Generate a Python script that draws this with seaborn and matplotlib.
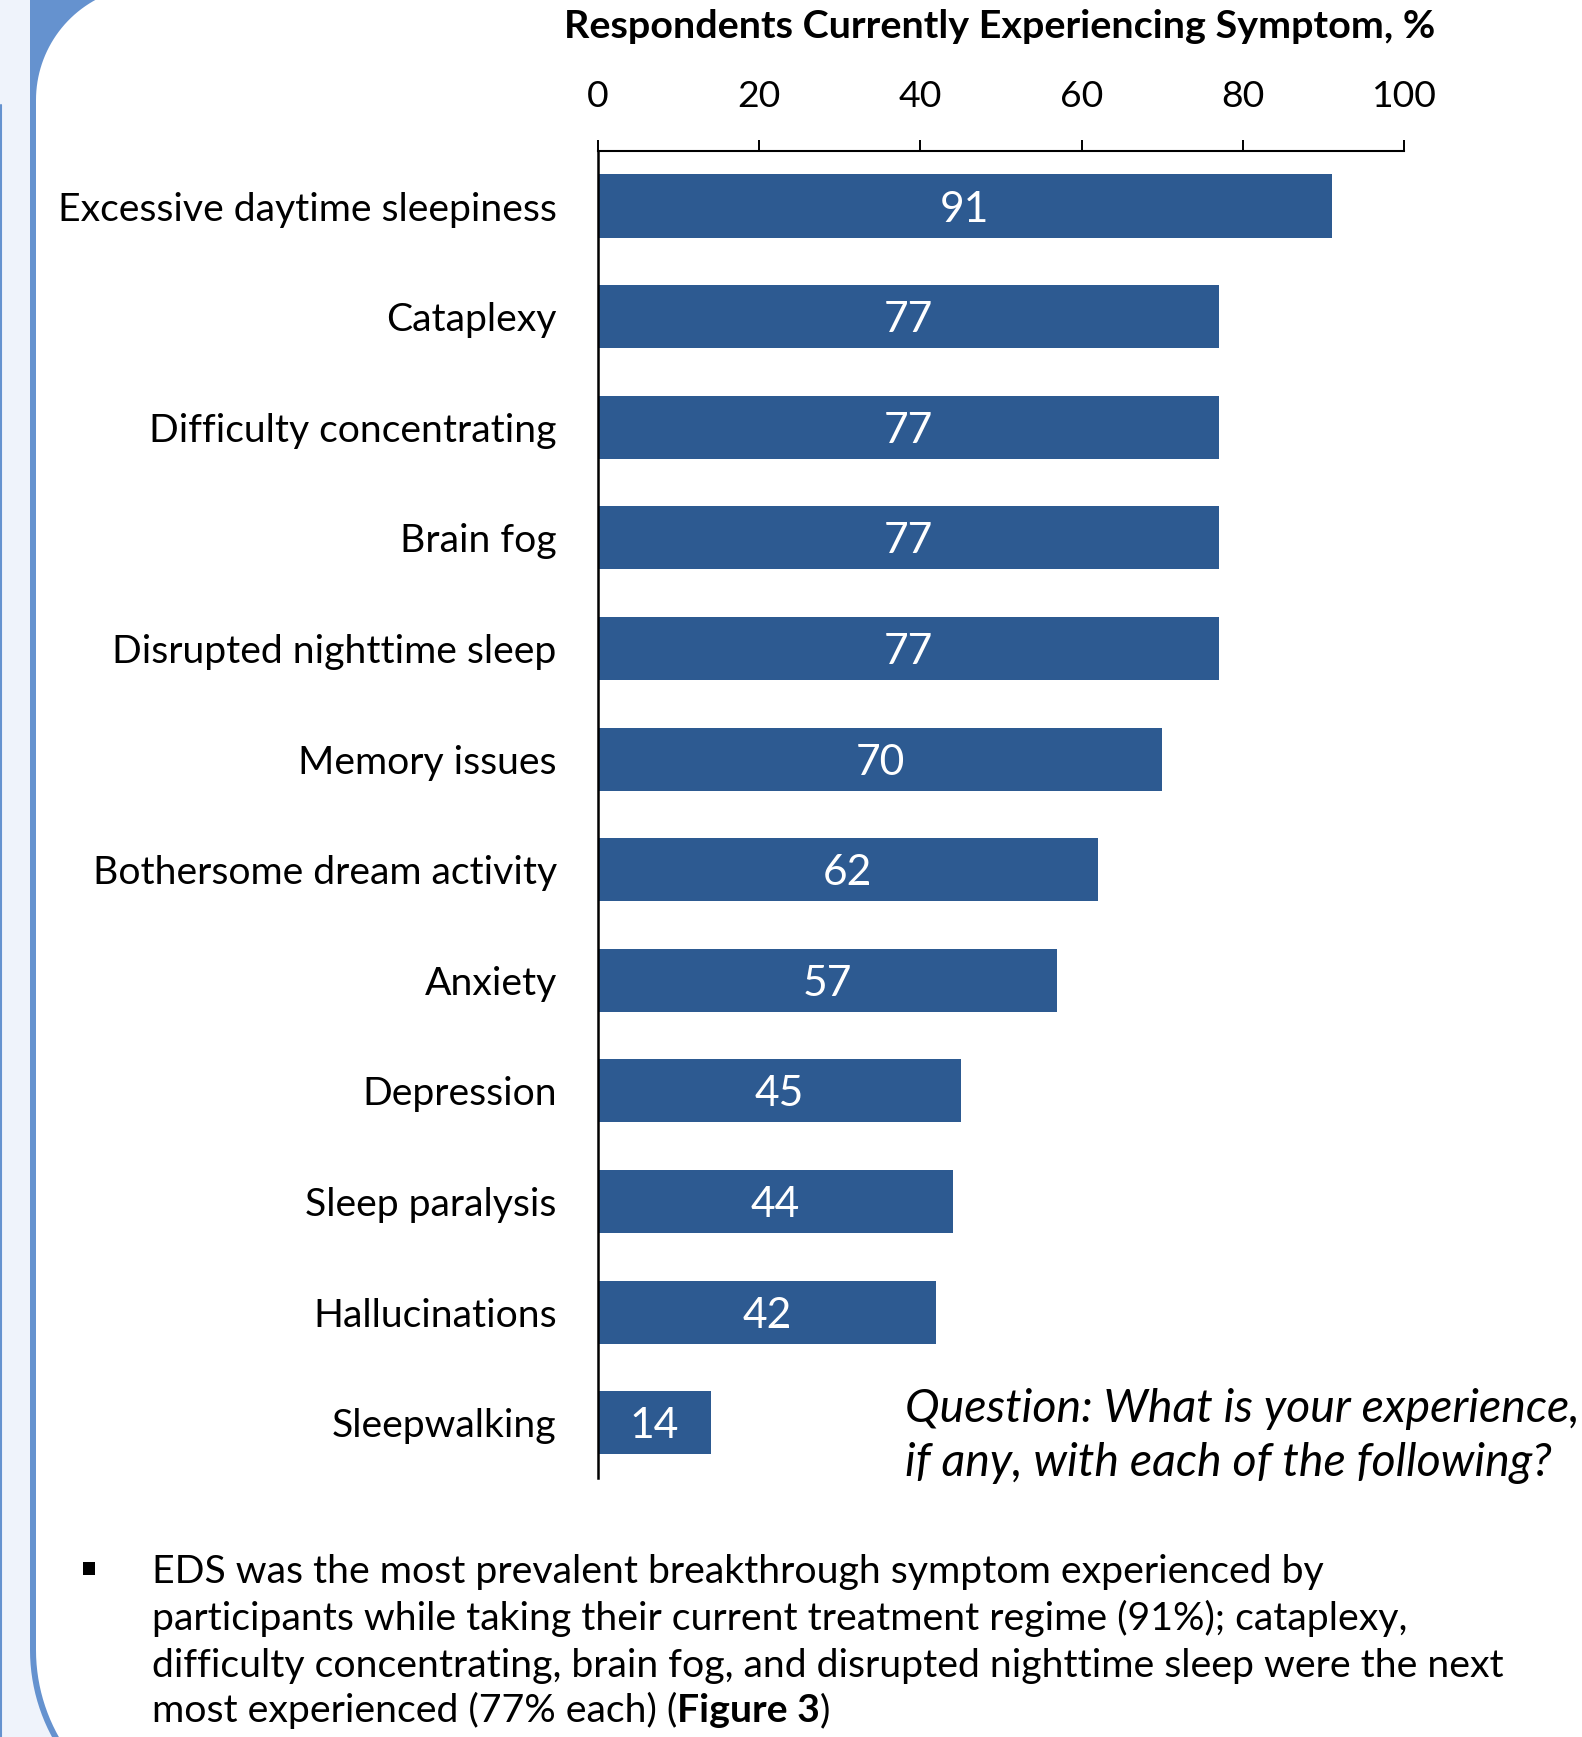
import numpy as np
import matplotlib
matplotlib.use("Agg")
import matplotlib.pyplot as plt
import seaborn as sns
import pandas as pd
from matplotlib.transforms import Affine2D
from matplotlib.patches import Polygon, Rectangle
from matplotlib.lines import Line2D

# ---------------- data ----------------
categories = [
    "Excessive daytime sleepiness",
    "Cataplexy",
    "Difficulty concentrating",
    "Brain fog",
    "Disrupted nighttime sleep",
    "Memory issues",
    "Bothersome dream activity",
    "Anxiety",
    "Depression",
    "Sleep paralysis",
    "Hallucinations",
    "Sleepwalking",
]
values = [91, 77, 77, 77, 77, 70, 62, 57, 45, 44, 42, 14]
x_ticks = [0, 20, 40, 60, 80, 100]
title = "Respondents Currently Experiencing Symptom, %"
question_lines = [
    "Question: What is your experience,",
    "if any, with each of the following?",
]
bullet_lines = [
    "EDS was the most prevalent breakthrough symptom experienced by",
    "participants while taking their current treatment regime (91%); cataplexy,",
    "difficulty concentrating, brain fog, and disrupted nighttime sleep were the next",
    "most experienced (77% each) (",
]
bullet_bold = "Figure 3"
bullet_tail = ")"

# ---------------- style ----------------
W, H = 1582, 1737
BAR = "#2D5A91"
BORDER = "#6592CF"
BG = "#EFF3FB"

sns.set_theme(style="white")
plt.rcParams["font.family"] = ["Lato", "DejaVu Sans"]

fig = plt.figure(figsize=(W / 100, H / 100), dpi=100)
fig.patch.set_facecolor(BG)
px = Affine2D().scale(1 / W, -1 / H).translate(0, 1) + fig.transFigure
renderer = fig.canvas.get_renderer()


def fit_size(txt, target, weight="normal", style="normal"):
    t = fig.text(0, 0, txt, fontsize=20, fontweight=weight, fontstyle=style)
    w = t.get_window_extent(renderer).width
    t.remove()
    return 20 * target / w


# ---------------- decorative frame ----------------
th = np.linspace(np.pi, np.pi / 2, 40)
outer = [(1700, -20), (30, -20), (30, 1650)]
outer += [(213 + 183 * np.cos(t), 1650 + 183 * np.sin(t)) for t in th]
outer += [(1700, 1833)]
fig.patches.append(Polygon(outer, closed=True, transform=px, facecolor=BORDER,
                           edgecolor="none", zorder=-3))
th_top = np.linspace(-np.pi / 2, -np.pi, 40)
inner = [(1700, -14)]
inner += [(150 + 114 * np.cos(t), 100 + 114 * np.sin(t)) for t in th_top]
inner += [(213 + 177 * np.cos(t), 1650 + 177 * np.sin(t)) for t in th]
inner += [(1700, 1827)]
fig.patches.append(Polygon(inner, closed=True, transform=px, facecolor="white",
                           edgecolor="none", zorder=-2))
fig.lines.append(Line2D([1, 1], [105, 1737], transform=px, color=BORDER, lw=1.5, zorder=-1))

# ---------------- axes ----------------
L, R, T, B = 597.7, 1404.3, 150.7, 1478.0
ax = fig.add_axes([L / W, 1 - B / H, (R - L) / W, (B - T) / H])
ax.set_facecolor("none")
ax.set_zorder(1)

df = pd.DataFrame({"Symptom": categories, "Percent": values})
sns.barplot(data=df, x="Percent", y="Symptom", orient="h", color=BAR,
            saturation=1, width=0.57, linewidth=0, ax=ax)

ax.set_xlim(0, 100)
ax.set_ylim(len(categories) - 0.5, -0.5)
ax.set_xlabel("")
ax.set_ylabel("")

lab_size = fit_size(categories[0], 500)
tick_size = fit_size("100", 62) * 1.05
val_size = fit_size("91", 45) * 1.1

ax.xaxis.tick_top()
ax.set_xticks(x_ticks)
ax.set_xticklabels([str(t) for t in x_ticks])
ax.tick_params(axis="x", which="both", top=True, bottom=False, direction="out",
               length=8, width=1.4, color="black", pad=19, labelsize=tick_size,
               labelcolor="black")
ax.tick_params(axis="y", length=0, pad=29.5, labelsize=lab_size, labelcolor="black")

for s in ["right", "bottom"]:
    ax.spines[s].set_visible(False)
ax.spines["top"].set_color("black")
ax.spines["top"].set_linewidth(1.5)
ax.spines["left"].set_color("black")
ax.spines["left"].set_linewidth(1.8)
ax.grid(False)

for i, v in enumerate(values):
    ax.text(v / 2, i, str(v), ha="center", va="center_baseline", color="white",
            fontsize=val_size)

# ---------------- texts ----------------
title_size = fit_size(title, 872, weight="bold")
fig.text(1000, 38, title, transform=px, ha="center", va="baseline",
         fontsize=title_size, fontweight="bold", color="black")

q_size = fit_size(question_lines[0], 674, style="italic")
for yb, line in zip([1422, 1476], question_lines):
    fig.text(905, yb, line, transform=px, ha="left", va="baseline",
             fontsize=q_size, fontstyle="italic", color="black")

b_size = fit_size(bullet_lines[2], 1360)
baselines = [1583, 1630, 1677, 1722]
last = None
for yb, line in zip(baselines, bullet_lines):
    last = fig.text(152, yb, line, transform=px, ha="left", va="baseline",
                    fontsize=b_size, color="black")
ext = last.get_window_extent(renderer)
x_end = ext.x1
tb = fig.text(x_end, baselines[3], bullet_bold, transform=px, ha="left", va="baseline",
              fontsize=b_size, fontweight="bold", color="black")
ext2 = tb.get_window_extent(renderer)
fig.text(ext2.x1, baselines[3], bullet_tail, transform=px, ha="left", va="baseline",
         fontsize=b_size, color="black")

fig.patches.append(Rectangle((83, 1562), 12, 13, transform=px, facecolor="black",
                             edgecolor="none", zorder=2))

fig.savefig("out.png", dpi=100, facecolor=fig.get_facecolor())
